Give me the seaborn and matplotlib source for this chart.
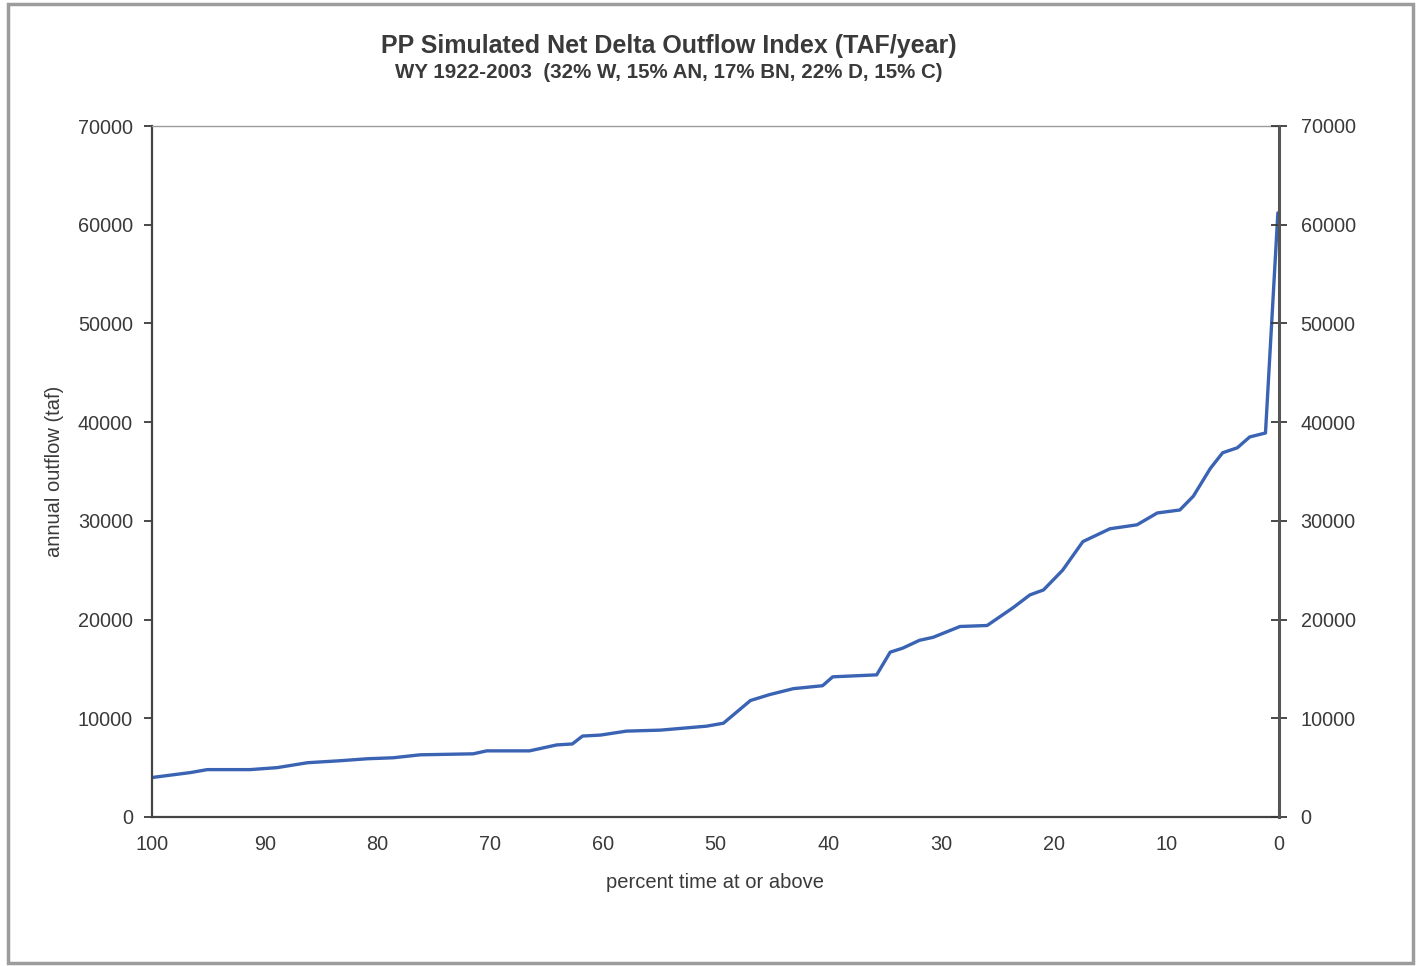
import matplotlib
matplotlib.use("Agg")
import matplotlib.pyplot as plt
import seaborn as sns
import pandas as pd
from matplotlib.patches import Rectangle

# exceedance percent (x) and annual outflow in TAF (y)
percent = [100, 96.6, 95.1, 91.3, 88.9, 86.2, 83.3, 80.9, 78.6, 76.2, 71.5, 70.3,
           66.5, 64.1, 62.7, 61.8, 60.2, 57.9, 54.9, 50.8, 49.3, 46.9, 45.2, 43.1,
           40.5, 39.6, 35.7, 34.5, 33.4, 31.9, 30.7, 28.3, 25.9, 23.6, 22.1, 20.9,
           19.2, 17.4, 15.0, 12.6, 10.8, 8.8, 7.6, 6.1, 5.0, 3.7, 2.6, 1.2, 0.1]
outflow = [4000, 4500, 4800, 4800, 5000, 5500, 5700, 5900, 6000, 6300, 6400, 6700,
           6700, 7300, 7400, 8200, 8300, 8700, 8800, 9200, 9500, 11800, 12400, 13000,
           13300, 14200, 14400, 16700, 17100, 17900, 18200, 19300, 19400, 21200, 22500,
           23000, 25000, 27900, 29200, 29600, 30800, 31100, 32500, 35300, 36900, 37400,
           38500, 38900, 61200]

yticks = [0, 10000, 20000, 30000, 40000, 50000, 60000, 70000]
xticks = [100, 90, 80, 70, 60, 50, 40, 30, 20, 10, 0]

title = "PP Simulated Net Delta Outflow Index (TAF/year)"
subtitle = "WY 1922-2003  (32% W, 15% AN, 17% BN, 22% D, 15% C)"

sns.set_theme(style="white")
plt.rcParams['font.family'] = ['Liberation Sans', 'DejaVu Sans']
text_col = "#3a3a3a"

fig = plt.figure(figsize=(14.22, 9.66), dpi=100)
W, H = 1422, 966
ax = fig.add_axes([152 / W, 1 - 817 / H, (1279 - 152) / W, (817 - 126) / H])

df = pd.DataFrame({"percent": percent, "outflow": outflow})
sns.lineplot(data=df, x="percent", y="outflow", ax=ax, color="#3a63b3",
             linewidth=2.4, sort=False, estimator=None)

ax.set_xlim(100, 0)
ax.set_ylim(0, 70000)
ax.set_xticks(xticks)
ax.set_xticklabels([str(t) for t in xticks])
ax.set_yticks(yticks)
ax.set_yticklabels([str(t) for t in yticks])
ax.tick_params(axis="both", labelsize=14.3, colors=text_col, direction="out",
               length=6, width=1.3, pad=7.7)
ax.tick_params(axis="x", pad=6.8)
for t in ax.get_xticklabels() + ax.get_yticklabels():
    t.set_color(text_col)

for side in ["left", "bottom"]:
    ax.spines[side].set_color("#444444")
    ax.spines[side].set_linewidth(1.6)
ax.spines["top"].set_color("#9a9a9a")
ax.spines["top"].set_linewidth(1.0)
ax.spines["right"].set_visible(False)

ax2 = ax.twinx()
ax2.set_ylim(0, 70000)
ax2.set_yticks(yticks)
ax2.set_yticklabels([str(t) for t in yticks])
ax2.tick_params(axis="y", labelsize=14.3, colors=text_col, direction="inout",
                length=12, width=1.3, pad=9.5)
for t in ax2.get_yticklabels():
    t.set_color(text_col)
for side in ["left", "bottom", "top"]:
    ax2.spines[side].set_visible(False)
ax2.spines["right"].set_color("#555555")
ax2.spines["right"].set_linewidth(2.2)

ax.set_xlabel("percent time at or above", fontsize=14.5, color=text_col, labelpad=14)
ax.set_ylabel("annual outflow (taf)", fontsize=14.5, color=text_col, labelpad=10)
ax.grid(False)

fig.text(669 / W, 1 - 46 / H, title, ha="center", va="center", fontsize=18,
         fontweight="bold", color=text_col)
fig.text(669 / W, 1 - 72 / H, subtitle, ha="center", va="center", fontsize=14.8,
         fontweight="bold", color=text_col)

# outer chart frame
fig.patches.append(Rectangle((8 / W, 3 / H), (1413 - 8) / W, (962 - 3) / H,
                             transform=fig.transFigure, fill=False,
                             edgecolor="#9c9c9c", linewidth=2.5))

fig.savefig("out.png", dpi=100, facecolor="white")
